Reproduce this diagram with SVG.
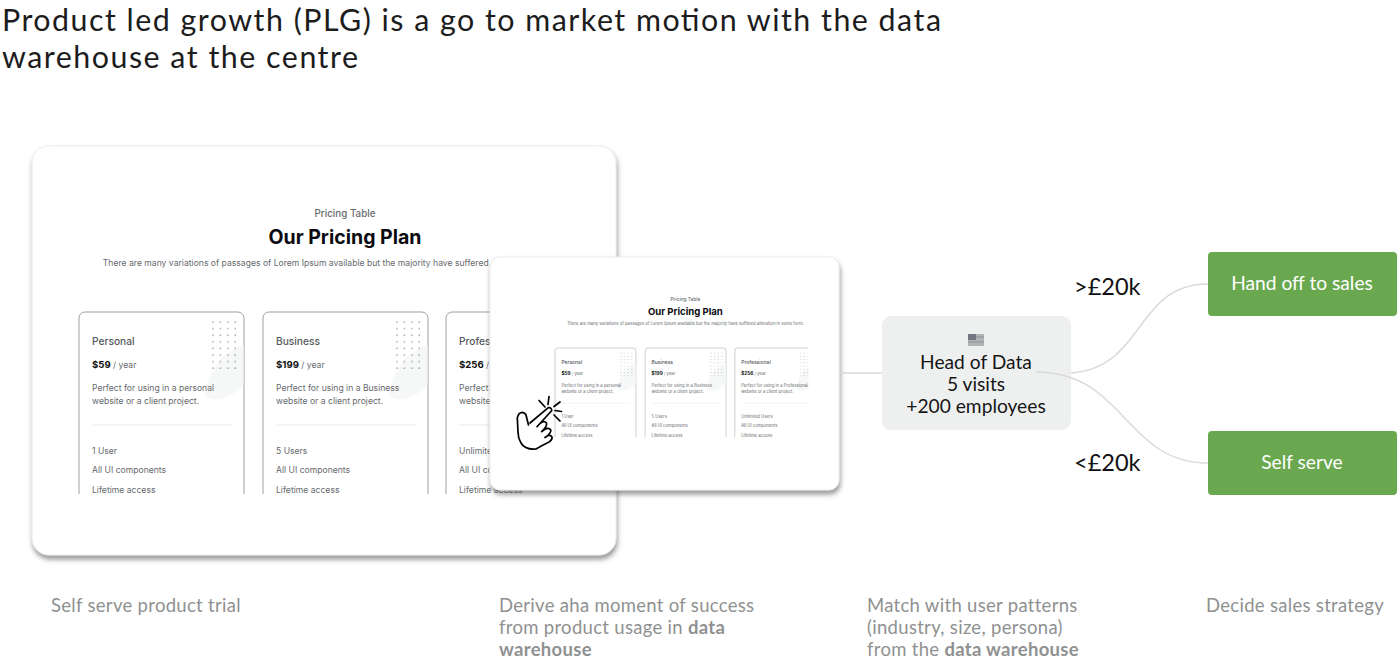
<svg xmlns="http://www.w3.org/2000/svg" xmlns:xlink="http://www.w3.org/1999/xlink" width="1400" height="665" viewBox="0 0 1400 665">
<style>
.ui{font-family:"Lato","Open Sans",sans-serif}
.title{font-size:30.4px;fill:#1c1c1c;font-weight:400}
.cap{font-size:18.5px;fill:#8f9191;letter-spacing:.3px}
.node{font-size:19.2px;fill:#151515;text-anchor:middle}
.gt{font-size:23.5px;fill:#111}
.wh{font-size:19.2px;fill:#fff;text-anchor:middle}
.conn{fill:none;stroke:#d8d9d8;stroke-width:1.4}
.in{font-family:"Inter","Liberation Sans",sans-serif;fill:#666a6d;font-size:8.6px}
.h1{font-family:"Inter","Liberation Sans",sans-serif;font-weight:700;font-size:19.5px;fill:#0b0b10;text-anchor:middle}
.h2{font-size:9.8px;font-weight:500;text-anchor:middle}
.h3{font-size:10.2px;font-weight:500;fill:#55595c}
.pr{font-weight:700;fill:#111;font-size:9.6px}
.cd{fill:#fff;stroke:#9d9fa2;stroke-width:1}
.hnd{fill:#fff;stroke:#000;stroke-width:1.7;stroke-linejoin:round;stroke-linecap:round}
.card{fill:#fff;stroke:#ececec;stroke-width:1}
</style>
<defs>
<filter id="sh" x="-6%" y="-6%" width="112%" height="114%">
<feDropShadow dx="1" dy="4" stdDeviation="2.5" flood-color="#555" flood-opacity=".6"/>
</filter>
<pattern id="dots" x="211" y="320" width="7.4" height="6.6" patternUnits="userSpaceOnUse"><circle cx="2" cy="2" r=".7" fill="#55585b"/></pattern>
<clipPath id="cl"><rect x="60" y="190" width="536" height="304"/></clipPath>
<g id="col">
<path class="cd" d="M79 494V318a6 6 0 0 1 6-6H238a6 6 0 0 1 6 6V494"/>
<path d="M243.500 345C225 352 208 368 205 395C215 405 235 395 243.500 385z" fill="#f6f7f7"/>
<rect x="211" y="320" width="28" height="52" fill="url(#dots)"/>
<path d="M92 425H232" stroke="#e9eaeb" stroke-width="1"/>
</g>
<g id="pricing" clip-path="url(#cl)">
<text x="345" y="217" class="in h2">Pricing Table</text>
<text x="345" y="244" class="h1">Our Pricing Plan</text>
<text x="345" y="266" class="in" text-anchor="middle">There are many variations of passages of Lorem Ipsum available but the majority have suffered alteration in some form.</text>
<use xlink:href="#col" href="#col"/>
<text x="92" y="345" class="in h3">Personal</text>
<text x="92" y="368" class="in"><tspan class="pr">$59</tspan> / year</text>
<text x="92" y="391" class="in">Perfect for using in a personal</text>
<text x="92" y="404" class="in">website or a client project.</text>
<text x="92" y="454" class="in">1 User</text>
<text x="92" y="473" class="in">All UI components</text>
<text x="92" y="493" class="in">Lifetime access</text>
<use xlink:href="#col" href="#col" x="184"/>
<text x="276" y="345" class="in h3">Business</text>
<text x="276" y="368" class="in"><tspan class="pr">$199</tspan> / year</text>
<text x="276" y="391" class="in">Perfect for using in a Business</text>
<text x="276" y="404" class="in">website or a client project.</text>
<text x="276" y="454" class="in">5 Users</text>
<text x="276" y="473" class="in">All UI components</text>
<text x="276" y="493" class="in">Lifetime access</text>
<use xlink:href="#col" href="#col" x="367"/>
<text x="459" y="345" class="in h3">Professional</text>
<text x="459" y="368" class="in"><tspan class="pr">$256</tspan> / year</text>
<text x="459" y="391" class="in">Perfect for using in a Professional</text>
<text x="459" y="404" class="in">website or a client project.</text>
<text x="459" y="454" class="in">Unlimited Users</text>
<text x="459" y="473" class="in">All UI components</text>
<text x="459" y="493" class="in">Lifetime access</text>
</g>
</defs>

<g id="title" class="ui">
<text x="2" y="30.500" class="title" textLength="939" lengthAdjust="spacing">Product led growth (PLG) is a go to market motion with the data</text>
<text x="2" y="68" class="title" textLength="356" lengthAdjust="spacing">warehouse at the centre</text>
</g>

<g id="node-trial">
<rect class="card" x="32" y="146" width="584" height="409" rx="17" filter="url(#sh)"/>
<use xlink:href="#pricing" href="#pricing"/>
</g>

<g id="node-aha">
<rect class="card" x="490" y="257" width="349" height="233" rx="10" filter="url(#sh)"/>
<use xlink:href="#pricing" href="#pricing" transform="translate(516.3 195.1) scale(.49)"/>
<g id="hand" class="hnd">
<path d="M530 423L548 407.8Q551.5 407 551.8 410.5L537 426.7Q543 419 546.5 423Q547.5 426 541.7 431.7Q548 426 550.8 430Q551.5 433 545 437.5Q550 433.5 552 437Q552.5 440 549 442Q541 446 536 449Q525 450 521 443Q518 438 518 432L517.3 418Q518.5 412.3 522.5 412.3Q526 413 526.5 417L528.5 425"/>
<path fill="none" d="M539 400.5L545 407M549 396.5L548 404.5M560 402L554 406.5M561.5 411.5L555 410.5M560 421L554 415"/>
</g>
</g>

<g id="node-user" class="ui">
<rect x="882" y="316" width="189" height="114" rx="9" fill="#eef0f0"/>
<g id="flag">
<rect x="968" y="334" width="16" height="12" fill="#b2b4b8"/>
<rect x="968" y="334" width="8" height="6" fill="#70757f"/>
<path d="M976 337H984M968 342H984" stroke="#8f8f95" stroke-width="1"/>
</g>
<text x="976" y="369" class="node">Head of Data</text>
<text x="976" y="391" class="node">5 visits</text>
<text x="976" y="413" class="node">+200 employees</text>
</g>

<g id="label-gt" class="ui"><text x="1074" y="295" class="gt">&gt;£20k</text></g>
<g id="label-lt" class="ui"><text x="1074" y="471" class="gt">&lt;£20k</text></g>

<g id="node-sales" class="ui">
<rect x="1208" y="252" width="189" height="64" rx="4" fill="#69a84f"/>
<text x="1302" y="290" class="wh">Hand off to sales</text>
</g>
<g id="node-self" class="ui">
<rect x="1208" y="431" width="189" height="64" rx="4" fill="#69a84f"/>
<text x="1302" y="469" class="wh">Self serve</text>
</g>

<g id="connectors">
<path class="conn" d="M840 373H882"/>
<path class="conn" d="M1071 373C1145 368 1135 284 1208 284"/>
<path class="conn" d="M1036 372C1125 372 1125 463 1208 463"/>
</g>

<g id="captions" class="ui">
<text x="51" y="611.500" class="cap">Self serve product trial</text>
<text x="499" y="611.500" class="cap">Derive aha moment of success</text>
<text x="499" y="633.500" class="cap">from product usage in <tspan font-weight="700">data</tspan></text>
<text x="499" y="655.500" class="cap" font-weight="700">warehouse</text>
<text x="867" y="611.500" class="cap">Match with user patterns</text>
<text x="867" y="633.500" class="cap">(industry, size, persona)</text>
<text x="867" y="655.500" class="cap">from the <tspan font-weight="700">data warehouse</tspan></text>
<text x="1206" y="611.500" class="cap">Decide sales strategy</text>
</g>
</svg>
